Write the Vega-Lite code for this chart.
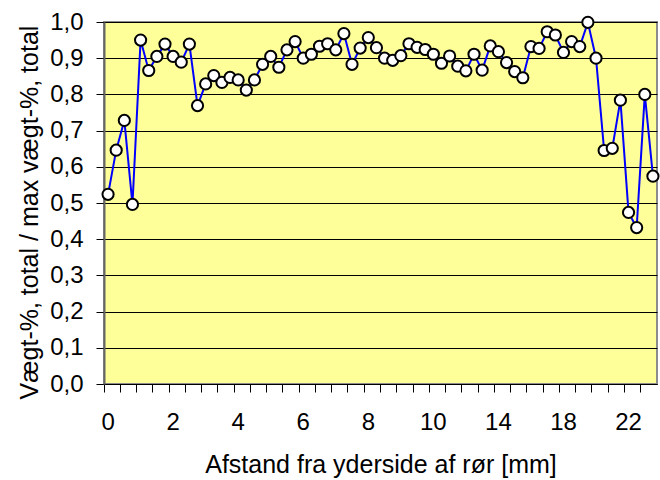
{
  "$schema": "https://vega.github.io/schema/vega-lite/v6.json",
  "width": 553,
  "height": 362,
  "autosize": {"type": "none"},
  "padding": {"left": 104, "top": 22, "right": 3, "bottom": 96},
  "background": "white",
  "config": {
    "font": "Liberation Sans",
    "view": {"fill": "#FFFF99", "stroke": "#8c8c8c", "strokeWidth": 2},
    "axis": {"labelFont": "Liberation Sans", "titleFont": "Liberation Sans", "labelFontSize": 24, "titleFontSize": 25, "labelColor": "black", "titleColor": "black", "titleFontWeight": "normal", "tickColor": "black", "domainColor": "black", "tickSize": 8, "ticks": true}
  },
  "data": {
    "values": [
      {"mm": 0, "v": 0.524}, {"mm": 0.25, "v": 0.646}, {"mm": 0.5, "v": 0.728}, {"mm": 0.75, "v": 0.496},
      {"mm": 1, "v": 0.950}, {"mm": 1.25, "v": 0.866}, {"mm": 1.5, "v": 0.905}, {"mm": 1.75, "v": 0.939},
      {"mm": 2, "v": 0.905}, {"mm": 2.25, "v": 0.889}, {"mm": 2.5, "v": 0.939}, {"mm": 2.75, "v": 0.769},
      {"mm": 3, "v": 0.829}, {"mm": 3.25, "v": 0.852}, {"mm": 3.5, "v": 0.833}, {"mm": 3.75, "v": 0.847},
      {"mm": 4, "v": 0.840}, {"mm": 4.25, "v": 0.812}, {"mm": 4.5, "v": 0.840}, {"mm": 4.75, "v": 0.883},
      {"mm": 5, "v": 0.905}, {"mm": 5.25, "v": 0.875}, {"mm": 5.5, "v": 0.923}, {"mm": 5.75, "v": 0.946},
      {"mm": 6, "v": 0.900}, {"mm": 6.25, "v": 0.911}, {"mm": 6.5, "v": 0.933}, {"mm": 6.75, "v": 0.940},
      {"mm": 7, "v": 0.923}, {"mm": 7.25, "v": 0.968}, {"mm": 7.5, "v": 0.883}, {"mm": 7.75, "v": 0.928},
      {"mm": 8, "v": 0.957}, {"mm": 8.25, "v": 0.929}, {"mm": 8.5, "v": 0.900}, {"mm": 8.75, "v": 0.894},
      {"mm": 9, "v": 0.907}, {"mm": 9.25, "v": 0.940}, {"mm": 9.5, "v": 0.930}, {"mm": 9.75, "v": 0.924},
      {"mm": 10, "v": 0.911}, {"mm": 10.5, "v": 0.886}, {"mm": 11, "v": 0.906}, {"mm": 11.5, "v": 0.878},
      {"mm": 12, "v": 0.865}, {"mm": 12.5, "v": 0.911}, {"mm": 13, "v": 0.867}, {"mm": 13.5, "v": 0.934},
      {"mm": 14, "v": 0.918}, {"mm": 14.5, "v": 0.888}, {"mm": 15, "v": 0.863}, {"mm": 15.5, "v": 0.846},
      {"mm": 16, "v": 0.932}, {"mm": 16.5, "v": 0.927}, {"mm": 17, "v": 0.973}, {"mm": 17.5, "v": 0.964},
      {"mm": 18, "v": 0.916}, {"mm": 18.5, "v": 0.946}, {"mm": 19, "v": 0.932}, {"mm": 19.5, "v": 0.999},
      {"mm": 20, "v": 0.900}, {"mm": 20.5, "v": 0.645}, {"mm": 21, "v": 0.651}, {"mm": 21.5, "v": 0.784},
      {"mm": 22, "v": 0.474}, {"mm": 22.5, "v": 0.432}, {"mm": 23, "v": 0.800}, {"mm": 23.5, "v": 0.574}
    ]
  },
  "encoding": {
    "x": {
      "field": "mm", "type": "ordinal", "sort": null, "bandPosition": 0.5,
      "scale": {"type": "band", "paddingInner": 0, "paddingOuter": 0},
      "axis": {
        "title": "Afstand fra yderside af rør [mm]",
        "labelAngle": 0,
        "bandPosition": 0,
        "labelDx": 4,
        "labelBaseline": "alphabetic",
        "labelPadding": 37,
        "labelOverlap": false,
        "grid": false,
        "ticks": true,
        "values": [0,0.5,1,1.5,2,2.5,3,3.5,4,4.5,5,5.5,6,6.5,7,7.5,8,8.5,9,9.5,10,11,12,13,14,15,16,17,18,19,20,21,22,23],
        "labelExpr": "indexof([0,2,4,6,8,10,14,18,22], datum.value) >= 0 ? datum.label : ''",
        "titleBaseline": "alphabetic",
        "titleY": 88
      }
    },
    "y": {
      "field": "v", "type": "quantitative",
      "scale": {"domain": [0, 1], "nice": false, "zero": true},
      "axis": {
        "title": "Vægt-%, total / max vægt-%, total",
        "values": [0,0.1,0.2,0.3,0.4,0.5,0.6,0.7,0.8,0.9,1],
        "labelExpr": "replace(format(datum.value, '.1f'), '.', ',')",
        "labelPadding": 13,
        "grid": true,
        "gridColor": "black",
        "gridOpacity": 1,
        "gridWidth": 1,
        "domainColor": "#666666",
        "domainWidth": 2,
        "titleX": -67,
        "titleY": 190,
        "titleBaseline": "alphabetic"
      }
    }
  },
  "layer": [
    {"mark": {"type": "line", "color": "#0000FF", "strokeWidth": 2}},
    {"mark": {"type": "point", "shape": "circle", "filled": true, "fill": "white", "stroke": "black", "strokeWidth": 2, "size": 125, "opacity": 1}}
  ]
}
